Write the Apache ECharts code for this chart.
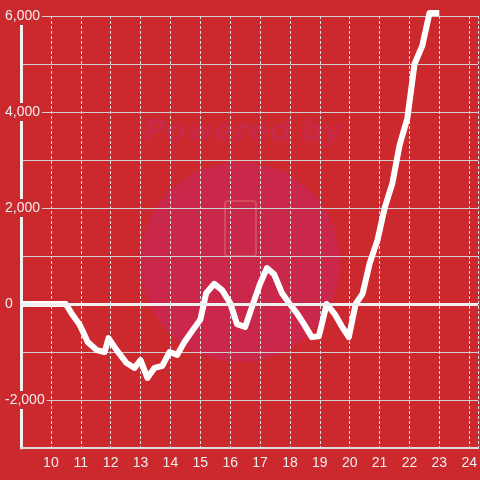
<!DOCTYPE html>
<html>
<head>
<meta charset="utf-8">
<script src="https://cdn.jsdelivr.net/npm/echarts@6/dist/echarts.min.js"></script>
<style>html,body{margin:0;padding:0;background:#cc292e;}#c{width:480px;height:480px;}</style>
</head>
<body>
<div id="c"></div>
<script>
const xValues = [9, 10.5, 10.73, 10.97, 11.23, 11.53, 11.8, 11.93, 12.2, 12.53, 12.8, 13.0, 13.23, 13.47, 13.73, 13.97, 14.23, 14.47, 14.73, 15.0, 15.2, 15.47, 15.73, 16.0, 16.23, 16.5, 16.73, 17.0, 17.23, 17.47, 17.73, 17.97, 18.23, 18.47, 18.73, 18.97, 19.23, 19.5, 19.73, 19.97, 20.2, 20.43, 20.67, 20.93, 21.17, 21.43, 21.67, 21.93, 22.17, 22.43, 22.67, 23.0];
const yValues = [0, 0, -230, -440, -790, -960, -1000, -710, -960, -1230, -1330, -1170, -1540, -1330, -1290, -1000, -1060, -790, -560, -330, 230, 420, 290, 20, -420, -480, -60, 420, 750, 620, 230, 20, -190, -420, -690, -670, 0, -210, -460, -690, 0, 210, 850, 1330, 2000, 2520, 3310, 3870, 5000, 5380, 6060, 6060];
const xTicks = {min: 9, max: 24.3, interval: 1};
const yTicks = {min: -3000, max: 6000, interval: 1000, labelEvery: 2000};

const seriesData = xValues.map((x, i) => [x, yValues[i]]);
const bg = '#cc292e';
const fmt = v => (v % yTicks.labelEvery === 0) ? v.toLocaleString('en-US') : '';

const chart = echarts.init(document.getElementById('c'), null, {renderer: 'canvas'});
chart.setOption({
  backgroundColor: bg,
  animation: false,
  textStyle: {fontFamily: 'Liberation Sans'},
  graphic: [
    {type: 'circle', shape: {cx: 240, cy: 262, r: 100}, style: {fill: '#c9284a'}, z: -10, silent: true},
    {type: 'text', x: 243, y: 133, style: {text: 'Powered by', fill: '#c82a46', font: 'italic bold 30px "DejaVu Sans"', textAlign: 'center', textVerticalAlign: 'middle'}, z: -10, silent: true},
    {type: 'rect', shape: {x: 225, y: 201, width: 31, height: 55, r: 3}, style: {fill: 'none', stroke: '#d54b5e', lineWidth: 2}, z: -10, silent: true}
  ],
  grid: {left: 21, right: -1, top: 16, bottom: 32, containLabel: false},
  xAxis: {
    type: 'value', min: xTicks.min, max: xTicks.max, interval: xTicks.interval,
    axisLine: {show: true, onZero: false, lineStyle: {color: '#dcdcdc', width: 2}},
    axisTick: {show: false},
    axisLabel: {color: '#eeeeee', fontSize: 14, margin: 8, showMinLabel: false, showMaxLabel: false},
    splitLine: {show: true, lineStyle: {color: '#e0e0e0', width: 1, type: [3, 2]}}
  },
  yAxis: [
    {
      type: 'value', position: 'left', min: yTicks.min, max: yTicks.max, interval: yTicks.interval,
      axisLine: {show: true, lineStyle: {color: '#f0f0f0', width: 3}},
      axisTick: {show: false},
      axisLabel: {show: false},
      splitLine: {show: true, lineStyle: {color: '#d0d0d0', width: 1}}
    },
    {
      type: 'value', position: 'left', offset: 0, z: 5, min: yTicks.min, max: yTicks.max, interval: yTicks.interval,
      axisLine: {show: false}, axisTick: {show: false}, splitLine: {show: false},
      axisLabel: {
        color: '#eeeeee', fontSize: 14, margin: 18, align: 'left',
        backgroundColor: bg, padding: [2, 2, 2, 2],
        formatter: fmt
      }
    }
  ],
  series: [{
    type: 'line', yAxisIndex: 0, data: seriesData, showSymbol: false, symbol: 'none', clip: false,
    lineStyle: {color: '#ffffff', width: 6, join: 'round'},
    markLine: {
      silent: true, symbol: 'none', animation: false,
      label: {show: false},
      lineStyle: {color: '#f0f0f0', width: 3, type: 'solid'},
      data: [{yAxis: 0}]
    }
  }]
});
</script>
</body>
</html>
